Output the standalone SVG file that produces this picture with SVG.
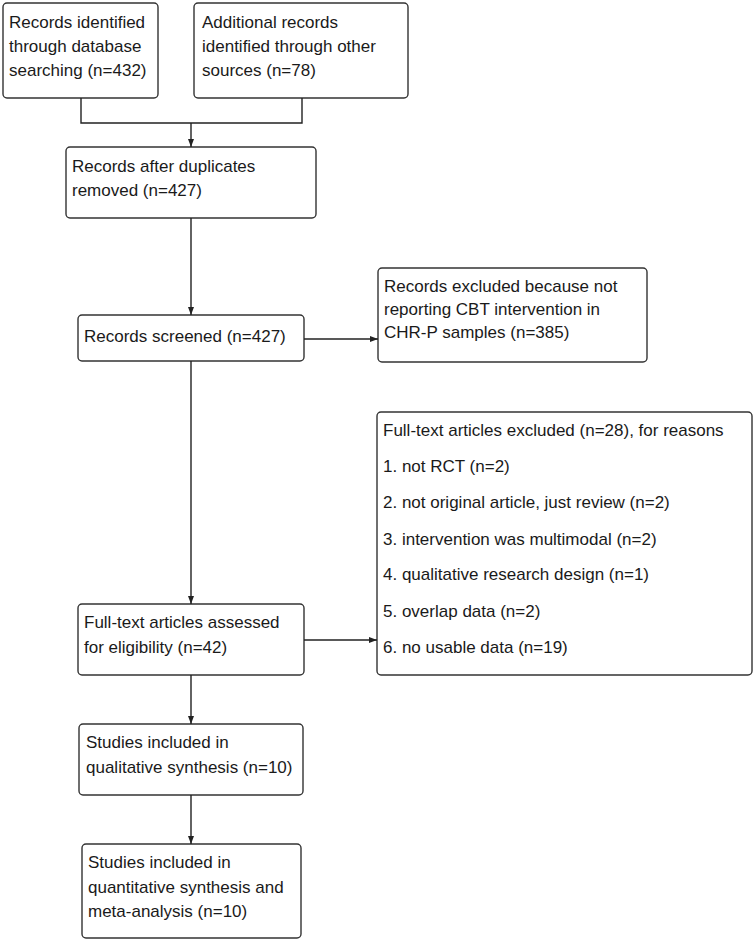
<svg xmlns="http://www.w3.org/2000/svg" width="755" height="943" viewBox="0 0 755 943">
<defs>
<marker id="ah" viewBox="0 0 8 6" refX="8" refY="3" markerWidth="8" markerHeight="6" markerUnits="userSpaceOnUse" orient="auto">
<path d="M0,0 L8,3 L0,6 Z" fill="#222"/>
</marker>
<style>
.box{fill:#fff;stroke:#333;stroke-width:1.4}
.t{font-family:"Liberation Sans",Arial,sans-serif;font-size:17px;fill:#1a1a1a}
.ln{fill:none;stroke:#222;stroke-width:1.4}
</style>
</defs>
<rect width="755" height="943" fill="#fff"/>
<g id="n1"><rect class="box" x="3" y="3" width="155" height="95" rx="4"/>
<text class="t" x="9" y="28">Records identified</text>
<text class="t" x="9" y="52">through database</text>
<text class="t" x="9" y="76">searching (n=432)</text></g>
<g id="n2"><rect class="box" x="194" y="3" width="214" height="95" rx="4"/>
<text class="t" x="202" y="28">Additional records</text>
<text class="t" x="202" y="52">identified through other</text>
<text class="t" x="202" y="76">sources (n=78)</text></g>
<g id="n3"><rect class="box" x="66" y="147" width="250" height="71" rx="4"/>
<text class="t" x="72" y="172">Records after duplicates</text>
<text class="t" x="72" y="196">removed (n=427)</text></g>
<g id="n4"><rect class="box" x="78" y="315" width="226" height="46" rx="4"/>
<text class="t" x="84" y="342">Records screened (n=427)</text></g>
<g id="n5"><rect class="box" x="378" y="268" width="269" height="94" rx="4"/>
<text class="t" x="384" y="292">Records excluded because not</text>
<text class="t" x="384" y="315">reporting CBT intervention in</text>
<text class="t" x="384" y="338">CHR-P samples (n=385)</text></g>
<g id="n6"><rect class="box" x="377" y="412" width="375" height="263" rx="4"/>
<text class="t" x="383" y="436">Full-text articles excluded (n=28), for reasons</text>
<text class="t" x="383" y="472">1. not RCT (n=2)</text>
<text class="t" x="383" y="508">2. not original article, just review (n=2)</text>
<text class="t" x="383" y="545">3. intervention was multimodal (n=2)</text>
<text class="t" x="383" y="580">4. qualitative research design (n=1)</text>
<text class="t" x="383" y="617">5. overlap data (n=2)</text>
<text class="t" x="383" y="653">6. no usable data (n=19)</text></g>
<g id="n7"><rect class="box" x="78" y="604" width="226" height="71" rx="4"/>
<text class="t" x="84" y="628">Full-text articles assessed</text>
<text class="t" x="84" y="653">for eligibility (n=42)</text></g>
<g id="n8"><rect class="box" x="79" y="724" width="224" height="71" rx="4"/>
<text class="t" x="86" y="748">Studies included in</text>
<text class="t" x="86" y="773">qualitative synthesis (n=10)</text></g>
<g id="n9"><rect class="box" x="82" y="844" width="219" height="94" rx="4"/>
<text class="t" x="88" y="868">Studies included in</text>
<text class="t" x="88" y="893">quantitative synthesis and</text>
<text class="t" x="88" y="917">meta-analysis (n=10)</text></g>
<g id="connectors">
<path class="ln" d="M81,98 V123 H302 V98"/>
<path class="ln" d="M191,123 V147" marker-end="url(#ah)"/>
<path class="ln" d="M191,218 V315" marker-end="url(#ah)"/>
<path class="ln" d="M304,339 H378" marker-end="url(#ah)"/>
<path class="ln" d="M191,361 V604" marker-end="url(#ah)"/>
<path class="ln" d="M304,640 H377" marker-end="url(#ah)"/>
<path class="ln" d="M191,675 V724" marker-end="url(#ah)"/>
<path class="ln" d="M191,795 V844" marker-end="url(#ah)"/>
</g>
</svg>
